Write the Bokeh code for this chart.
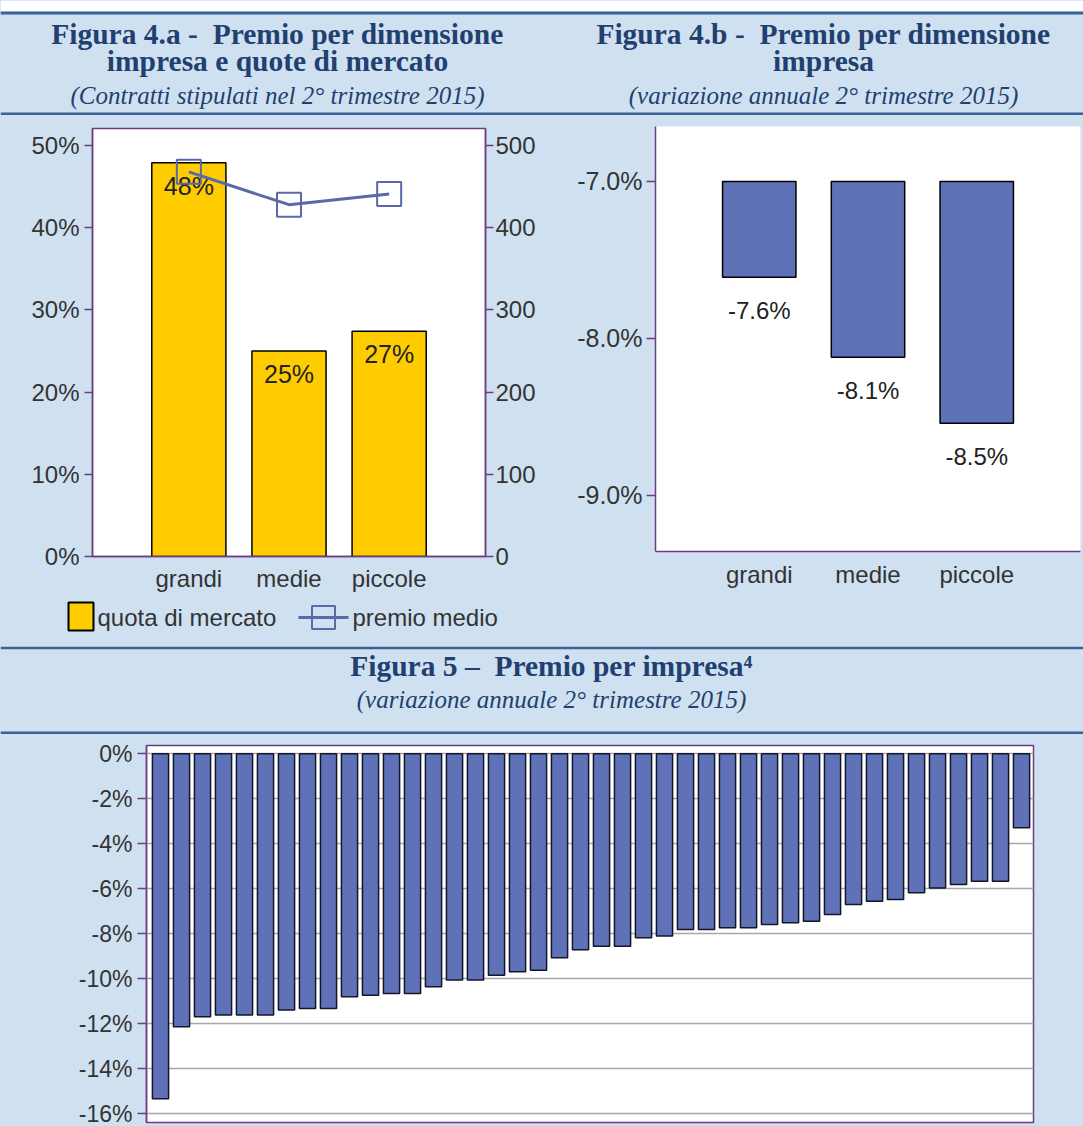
from bokeh.plotting import figure
from bokeh.models import (Range1d, FactorRange, LinearAxis, FixedTicker,
                          PrintfTickFormatter, Span, BoxAnnotation)
from bokeh.layouts import column, row
from bokeh.embed import file_html
from bokeh.resources import INLINE
from bokeh.core.properties import value

# ---------------- data ----------------
dimensioni = ["grandi", "medie", "piccole"]
quota_mercato = [47.9, 25.0, 27.4]          # % (left axis)
premio_medio = [468, 428, 441]              # euro (right axis)
variazione_dim = [-7.61, -8.12, -8.54]      # % annual change, Fig 4.b
base_4b = -7.0
variazione_imprese = [-15.33, -12.13, -11.69, -11.61, -11.61, -11.61, -11.39, -11.32,
                      -11.32, -10.80, -10.73, -10.65, -10.65, -10.36, -10.06, -10.06,
                      -9.84, -9.69, -9.62, -9.07, -8.71, -8.56, -8.56, -8.18, -8.10,
                      -7.81, -7.81, -7.73, -7.73, -7.59, -7.51, -7.44, -7.14, -6.70,
                      -6.55, -6.48, -6.18, -5.96, -5.81, -5.66, -5.66, -3.29]
imprese = list(range(len(variazione_imprese)))
ticks_4a_left = [0, 10, 20, 30, 40, 50]
ticks_4a_right = [0, 100, 200, 300, 400, 500]
ticks_4b = [-7.0, -8.0, -9.0]
ticks_5 = [0, -2, -4, -6, -8, -10, -12, -14, -16]
legend_labels = ["quota di mercato", "premio medio"]

titles_4a = ["Figura 4.a - \u00a0Premio per dimensione", "impresa e quote di mercato"]
sub_4a = "(Contratti stipulati nel 2° trimestre 2015)"
titles_4b = ["Figura 4.b - \u00a0Premio per dimensione", "impresa"]
sub_4b = "(variazione annuale 2° trimestre 2015)"
title_5 = "Figura 5 – \u00a0Premio per impresa\u2074"
sub_5 = "(variazione annuale 2° trimestre 2015)"

# ---------------- style ----------------
BG = "#CFE1F0"
LINE_BLUE = "#3A6296"
TITLE_BLUE = "#22406F"
PURPLE = "#6E3C82"
BAR_BLUE = "#5F72B8"
YELLOW = "#FFCC00"
PREMIO = "#5A69A8"
TXT = "#333333"
SANS = value("Liberation Sans")
SERIF = value("Liberation Serif")
BGSTYLE = {"background-color": BG}


def px(v):
    return f"{v:.1f}px"


def band(ref_top, ref_bot, height):
    p = figure(width=1083, height=height, x_range=Range1d(0, 1083),
               y_range=Range1d(ref_bot, ref_top), output_backend="svg",
               toolbar_location=None, min_border=0, x_axis_location=None,
               y_axis_location=None, background_fill_color=BG,
               border_fill_color=BG, outline_line_color=None, frame_align=False)
    p.xgrid.visible = False
    p.ygrid.visible = False
    return p


def title_text(p, x, y, txt, size, style):
    p.text(x=[x], y=[y], text=[txt], text_font=SERIF, text_font_size=px(size),
           text_font_style=style, text_color=TITLE_BLUE, text_align="center",
           text_baseline="middle")


def style_axis(ax, size=24):
    ax.axis_line_color = PURPLE
    ax.axis_line_width = 1.5
    ax.major_tick_line_color = PURPLE
    ax.major_tick_line_width = 1.5
    ax.major_tick_in = 0
    ax.major_tick_out = 8
    ax.minor_tick_line_color = None
    ax.major_label_text_font = "Liberation Sans"
    ax.major_label_text_font_size = px(size)
    ax.major_label_text_color = TXT


# ---------------- header 1 ----------------
h1 = band(0, 115, 115)
h1.add_layout(BoxAnnotation(top=0, bottom=11, fill_color="white", fill_alpha=1,
                            line_color=None))
h1.add_layout(Span(location=12.5, dimension="width", line_color=LINE_BLUE, line_width=3))
h1.add_layout(Span(location=113.5, dimension="width", line_color=LINE_BLUE, line_width=3))
title_text(h1, 277, 33, titles_4a[0], 29.5, "bold")
title_text(h1, 277, 60, titles_4a[1], 29.5, "bold")
title_text(h1, 277, 95, sub_4a, 25, "italic")
title_text(h1, 823, 33, titles_4b[0], 29.5, "bold")
title_text(h1, 823, 60, titles_4b[1], 29.5, "bold")
title_text(h1, 823, 95, sub_4b, 25, "italic")

# ---------------- figure 4.a ----------------
f4a = figure(width=548, height=480,
             x_range=FactorRange(factors=dimensioni, range_padding=0.462,
                                 range_padding_units="absolute"),
             y_range=Range1d(0, 52.07), output_backend="svg", toolbar_location=None,
             background_fill_color="white", border_fill_color=BG,
             outline_line_color=PURPLE, outline_line_width=1.5, frame_align=False)
f4a.min_border_left = 92
f4a.min_border_right = 63
f4a.min_border_top = 13
f4a.min_border_bottom = 39
f4a.extra_y_ranges = {"premio": Range1d(0, 520.7)}
f4a.xgrid.visible = False
f4a.ygrid.visible = False
f4a.vbar(x=dimensioni, top=quota_mercato, width=0.74, fill_color=YELLOW,
         line_color="black", line_width=1.5)
f4a.text(x=dimensioni, y=quota_mercato, text=[f"{v:.0f}%" for v in quota_mercato],
         y_offset=23, text_font=SANS, text_font_size=px(25), text_color="#222222",
         text_align="center", text_baseline="middle")
f4a.line(x=dimensioni, y=premio_medio, y_range_name="premio", line_color=PREMIO,
         line_width=3)
f4a.scatter(x=dimensioni, y=premio_medio, y_range_name="premio", marker="square",
            size=24, fill_color=None, line_color=PREMIO, line_width=2)
f4a.yaxis.ticker = FixedTicker(ticks=ticks_4a_left)
f4a.yaxis.formatter = PrintfTickFormatter(format="%d%%")
style_axis(f4a.yaxis[0])
f4a.yaxis.major_label_standoff = 5
ra = LinearAxis(y_range_name="premio", ticker=FixedTicker(ticks=ticks_4a_right))
style_axis(ra)
ra.major_label_standoff = 2
f4a.add_layout(ra, "right")
style_axis(f4a.xaxis[0])
f4a.xaxis.major_tick_out = 0
f4a.xaxis.major_label_standoff = 8

# legend strip under 4.a
leg = figure(width=548, height=50, x_range=Range1d(0, 548), y_range=Range1d(645, 595),
             output_backend="svg", toolbar_location=None, min_border=0,
             x_axis_location=None, y_axis_location=None, background_fill_color=BG,
             border_fill_color=BG, outline_line_color=None, frame_align=False)
leg.xgrid.visible = False
leg.ygrid.visible = False
leg.quad(left=[68], right=[93], top=[602], bottom=[630], fill_color=YELLOW,
         line_color="black", line_width=2)
leg.line(x=[298, 348], y=[617, 617], line_color=PREMIO, line_width=3)
leg.scatter(x=[323], y=[617], marker="square", size=23, fill_color=None,
            line_color=PREMIO, line_width=2)
leg.text(x=[97, 352], y=[617, 617], text=legend_labels, text_font=SANS,
         text_font_size=px(24), text_color=TXT, text_align="left",
         text_baseline="middle")

# ---------------- figure 4.b ----------------
f4b = figure(width=535, height=530,
             x_range=FactorRange(factors=dimensioni, range_padding=0.454,
                                 range_padding_units="absolute"),
             y_range=Range1d(-9.357, -6.65), output_backend="svg",
             toolbar_location=None, background_fill_color="white",
             border_fill_color=BG, outline_line_color=None, frame_align=False)
f4b.min_border_left = 107
f4b.min_border_right = 3
f4b.min_border_top = 11
f4b.min_border_bottom = 94
f4b.xgrid.visible = False
f4b.ygrid.visible = False
f4b.vbar(x=dimensioni, top=base_4b, bottom=variazione_dim, width=0.675,
         fill_color=BAR_BLUE, line_color="black", line_width=1.5)
f4b.text(x=dimensioni, y=variazione_dim, text=[f"{v:.1f}%" for v in variazione_dim],
         y_offset=33, text_font=SANS, text_font_size=px(24), text_color="#222222",
         text_align="center", text_baseline="middle")
f4b.yaxis.ticker = FixedTicker(ticks=ticks_4b)
f4b.yaxis.formatter = PrintfTickFormatter(format="%.1f%%")
style_axis(f4b.yaxis[0], 25)
f4b.yaxis.major_tick_out = 9
f4b.yaxis.major_label_standoff = 4
style_axis(f4b.xaxis[0], 24)
f4b.xaxis.major_tick_out = 0
f4b.xaxis.major_label_standoff = 9

# ---------------- header 2 ----------------
h2 = band(645, 734, 89)
h2.add_layout(Span(location=647.5, dimension="width", line_color=LINE_BLUE, line_width=2.5))
h2.add_layout(Span(location=732.5, dimension="width", line_color=LINE_BLUE, line_width=3))
title_text(h2, 551, 665, title_5, 29.5, "bold")
title_text(h2, 551, 699, sub_5, 25, "italic")

# ---------------- figure 5 ----------------
f5 = figure(width=1083, height=392, x_range=Range1d(-0.667, 41.57),
            y_range=Range1d(-16.39, 0.37), output_backend="svg",
            toolbar_location=None, x_axis_location=None,
            background_fill_color="white", border_fill_color=BG,
            outline_line_color=PURPLE, outline_line_width=1.5, frame_align=False)
f5.min_border_left = 146
f5.min_border_right = 50
f5.min_border_top = 11
f5.min_border_bottom = 4
f5.xgrid.visible = False
f5.ygrid.ticker = FixedTicker(ticks=ticks_5)
f5.ygrid.grid_line_color = "#A8A8A8"
f5.ygrid.grid_line_width = 1.5
f5.vbar(x=imprese, top=0, bottom=variazione_imprese, width=0.77,
        fill_color=BAR_BLUE, line_color="#15152A", line_width=1.5)
f5.yaxis.ticker = FixedTicker(ticks=ticks_5)
f5.yaxis.formatter = PrintfTickFormatter(format="%d%%")
style_axis(f5.yaxis[0], 23)
f5.yaxis.major_tick_out = 9
f5.yaxis.major_label_standoff = 5

col4a = column(f4a, leg, spacing=0, styles=BGSTYLE)
row4 = row(col4a, f4b, spacing=0, styles=BGSTYLE)
layout = column(h1, row4, h2, f5, spacing=0, styles=BGSTYLE)

open("out.html", "w").write(file_html(layout, INLINE))
